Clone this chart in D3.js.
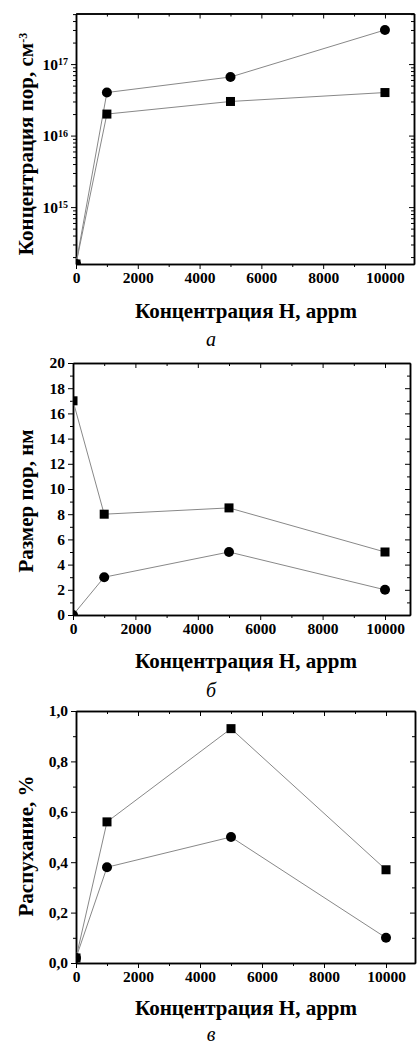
<!DOCTYPE html>
<html>
<head>
<meta charset="utf-8">
<script src="https://cdn.jsdelivr.net/npm/d3@7"></script>
<style>
  body { margin: 0; background: #fff; }
  .axis path.domain { stroke: #000; stroke-width: 1.5; }
  .axis line { stroke: #000; stroke-width: 1; }
</style>
</head>
<body>
<script>
// data
var hConc = [0, 1000, 5000, 10000];
var poreConcCircles = [1.6e14, 4e16, 6.6e16, 3e17];
var poreConcSquares = [1.6e14, 2e16, 3e16, 4e16];
var poreSizeSquares = [17, 8, 8.5, 5];
var poreSizeCircles = [0, 3, 5, 2];
var swellSquares = [0.02, 0.56, 0.93, 0.37];
var swellCircles = [0.02, 0.38, 0.5, 0.1];

var xTicks = [0, 2000, 4000, 6000, 8000, 10000];
var xMinor = [1000, 3000, 5000, 7000, 9000];
var concTicks = [1e15, 1e16, 1e17];
var sizeTicks = [0, 2, 4, 6, 8, 10, 12, 14, 16, 18, 20];
var swellTicks = [0, 0.2, 0.4, 0.6, 0.8, 1.0];
var xTitle = "Концентрация Н, appm";
var captions = ["а", "б", "в"];

var serif = "'Liberation Serif', 'Times New Roman', serif";
var w = 417, h = 1045;
var svg = d3.select("body").append("svg").attr("width", w).attr("height", h)
  .style("display", "block");

var panels = [
  { left: 76, right: 414, top: 13.5, bottom: 264, xMax: 10940,
    yType: "log", yDomain: [1.6e14, 5.1e17], yTicks: concTicks,
    squares: poreConcSquares, circles: poreConcCircles,
    yTitle: "Концентрация пор, см", ySup: "-3", yTitleY: 144,
    xTitleY: 318, capY: 346 },
  { left: 73, right: 410, top: 363, bottom: 615, xMax: 10801,
    yType: "lin", yDomain: [0, 20], yTicks: sizeTicks, yMinorStep: 1,
    squares: poreSizeSquares, circles: poreSizeCircles,
    yTitle: "Размер пор, нм", yTitleY: 501,
    xTitleY: 668, capY: 697 },
  { left: 76, right: 415, top: 711, bottom: 963, xMax: 10935,
    yType: "lin", yDomain: [0, 1.0], yTicks: swellTicks, yMinorStep: 0.1,
    squares: swellSquares, circles: swellCircles,
    yTitle: "Распухание, %", yTitleY: 846,
    xTitleY: 1015, capY: 1041 }
];

function minorLinear(domain, step, majors) {
  var out = [];
  var n = Math.round((domain[1] - domain[0]) / step);
  for (var i = 0; i <= n; i++) {
    var v = +(domain[0] + i * step).toFixed(6);
    if (majors.indexOf(v) < 0) out.push(v);
  }
  return out;
}

function minorLog(domain) {
  var out = [];
  for (var e = 13; e <= 18; e++) {
    for (var m = 2; m <= 9; m++) {
      var v = m * Math.pow(10, e);
      if (v >= domain[0] && v <= domain[1]) out.push(v);
    }
  }
  return out;
}

function styleAxis(sel) {
  sel.attr("class", "axis")
    .attr("font-family", serif).attr("font-size", 15.5).attr("font-weight", "bold");
  sel.selectAll("text").attr("fill", "#000");
}

panels.forEach(function(p, idx) {
  var x = d3.scaleLinear().domain([0, p.xMax]).range([p.left, p.right]);
  var y = (p.yType == "log" ? d3.scaleLog() : d3.scaleLinear())
    .domain(p.yDomain).range([p.bottom, p.top]);

  var g = svg.append("g");
  var clipId = "clip" + idx;
  g.append("clipPath").attr("id", clipId).append("rect")
    .attr("x", p.left).attr("y", p.top)
    .attr("width", p.right - p.left).attr("height", p.bottom - p.top);

  var yMinor = p.yType == "log" ? minorLog(p.yDomain) : minorLinear(p.yDomain, p.yMinorStep, p.yTicks);
  var fmt = p.yType == "log" ? function() { return ""; }
    : function(d) { return p.yDomain[1] <= 1 ? d3.format(".1f")(d).replace(".", ",") : d; };

  // minor ticks first
  g.append("g").attr("transform", "translate(0," + p.bottom + ")")
    .call(d3.axisBottom(x).tickValues(xMinor).tickSizeInner(3).tickSizeOuter(0).tickFormat(""))
    .call(styleAxis);
  g.append("g").attr("transform", "translate(0," + p.top + ")")
    .call(d3.axisTop(x).tickValues(xMinor).tickSizeInner(-3).tickSizeOuter(0).tickFormat(""))
    .call(styleAxis);
  g.append("g").attr("transform", "translate(" + p.left + ",0)")
    .call(d3.axisLeft(y).tickValues(yMinor).tickSizeInner(3).tickSizeOuter(0).tickFormat(""))
    .call(styleAxis);
  g.append("g").attr("transform", "translate(" + p.right + ",0)")
    .call(d3.axisRight(y).tickValues(yMinor).tickSizeInner(-3).tickSizeOuter(0).tickFormat(""))
    .call(styleAxis);

  // major ticks
  g.append("g").attr("transform", "translate(0," + p.bottom + ")")
    .call(d3.axisBottom(x).tickValues(xTicks).tickSizeInner(5).tickSizeOuter(0).tickPadding(3).tickFormat(d3.format("d")))
    .call(styleAxis);
  g.append("g").attr("transform", "translate(0," + p.top + ")")
    .call(d3.axisTop(x).tickValues(xTicks).tickSizeInner(-5).tickSizeOuter(0).tickFormat(""))
    .call(styleAxis);
  var yl = g.append("g").attr("transform", "translate(" + p.left + ",0)")
    .call(d3.axisLeft(y).tickValues(p.yTicks).tickSizeInner(5).tickSizeOuter(0).tickPadding(3).tickFormat(fmt))
    .call(styleAxis);
  g.append("g").attr("transform", "translate(" + p.right + ",0)")
    .call(d3.axisRight(y).tickValues(p.yTicks).tickSizeInner(-5).tickSizeOuter(0).tickFormat(""))
    .call(styleAxis);

  if (p.yType == "log") {
    yl.selectAll(".tick text").each(function(d) {
      var t = d3.select(this);
      t.append("tspan").text("10");
      t.append("tspan").attr("dy", "-0.45em").attr("font-size", 10)
        .text(Math.round(Math.log10(d)));
    });
  }

  // lines
  var line = d3.line().x(function(d) { return x(d[0]); }).y(function(d) { return y(d[1]); });
  [p.squares, p.circles].forEach(function(s) {
    g.append("path").datum(d3.zip(hConc, s))
      .attr("d", line).attr("fill", "none")
      .attr("stroke", "#888").attr("stroke-width", 1);
  });

  var marks = g.append("g").attr("clip-path", "url(#" + clipId + ")");
  marks.selectAll("rect.sq").data(d3.zip(hConc, p.squares)).enter().append("rect")
    .attr("class", "sq")
    .attr("x", function(d) { return x(d[0]) - 4.5; })
    .attr("y", function(d) { return y(d[1]) - 4.5; })
    .attr("width", 9).attr("height", 9).attr("fill", "#000");
  marks.selectAll("circle").data(d3.zip(hConc, p.circles)).enter().append("circle")
    .attr("cx", function(d) { return x(d[0]); })
    .attr("cy", function(d) { return y(d[1]); })
    .attr("r", 5).attr("fill", "#000");

  // titles
  var yt = svg.append("text")
    .attr("transform", "translate(33," + p.yTitleY + ") rotate(-90)")
    .attr("text-anchor", "middle")
    .attr("font-family", serif).attr("font-weight", "bold").attr("font-size", 21)
    .text(p.yTitle);
  if (p.ySup) {
    yt.append("tspan").attr("dy", "-0.5em").attr("font-size", 12).text(p.ySup);
  }

  svg.append("text")
    .attr("x", 246).attr("y", p.xTitleY)
    .attr("text-anchor", "middle")
    .attr("font-family", serif).attr("font-weight", "bold").attr("font-size", 21)
    .text(xTitle);

  svg.append("text")
    .attr("x", 211).attr("y", p.capY)
    .attr("text-anchor", "middle")
    .attr("font-family", serif).attr("font-style", "italic").attr("font-size", 20)
    .text(captions[idx]);
});
</script>
</body>
</html>
